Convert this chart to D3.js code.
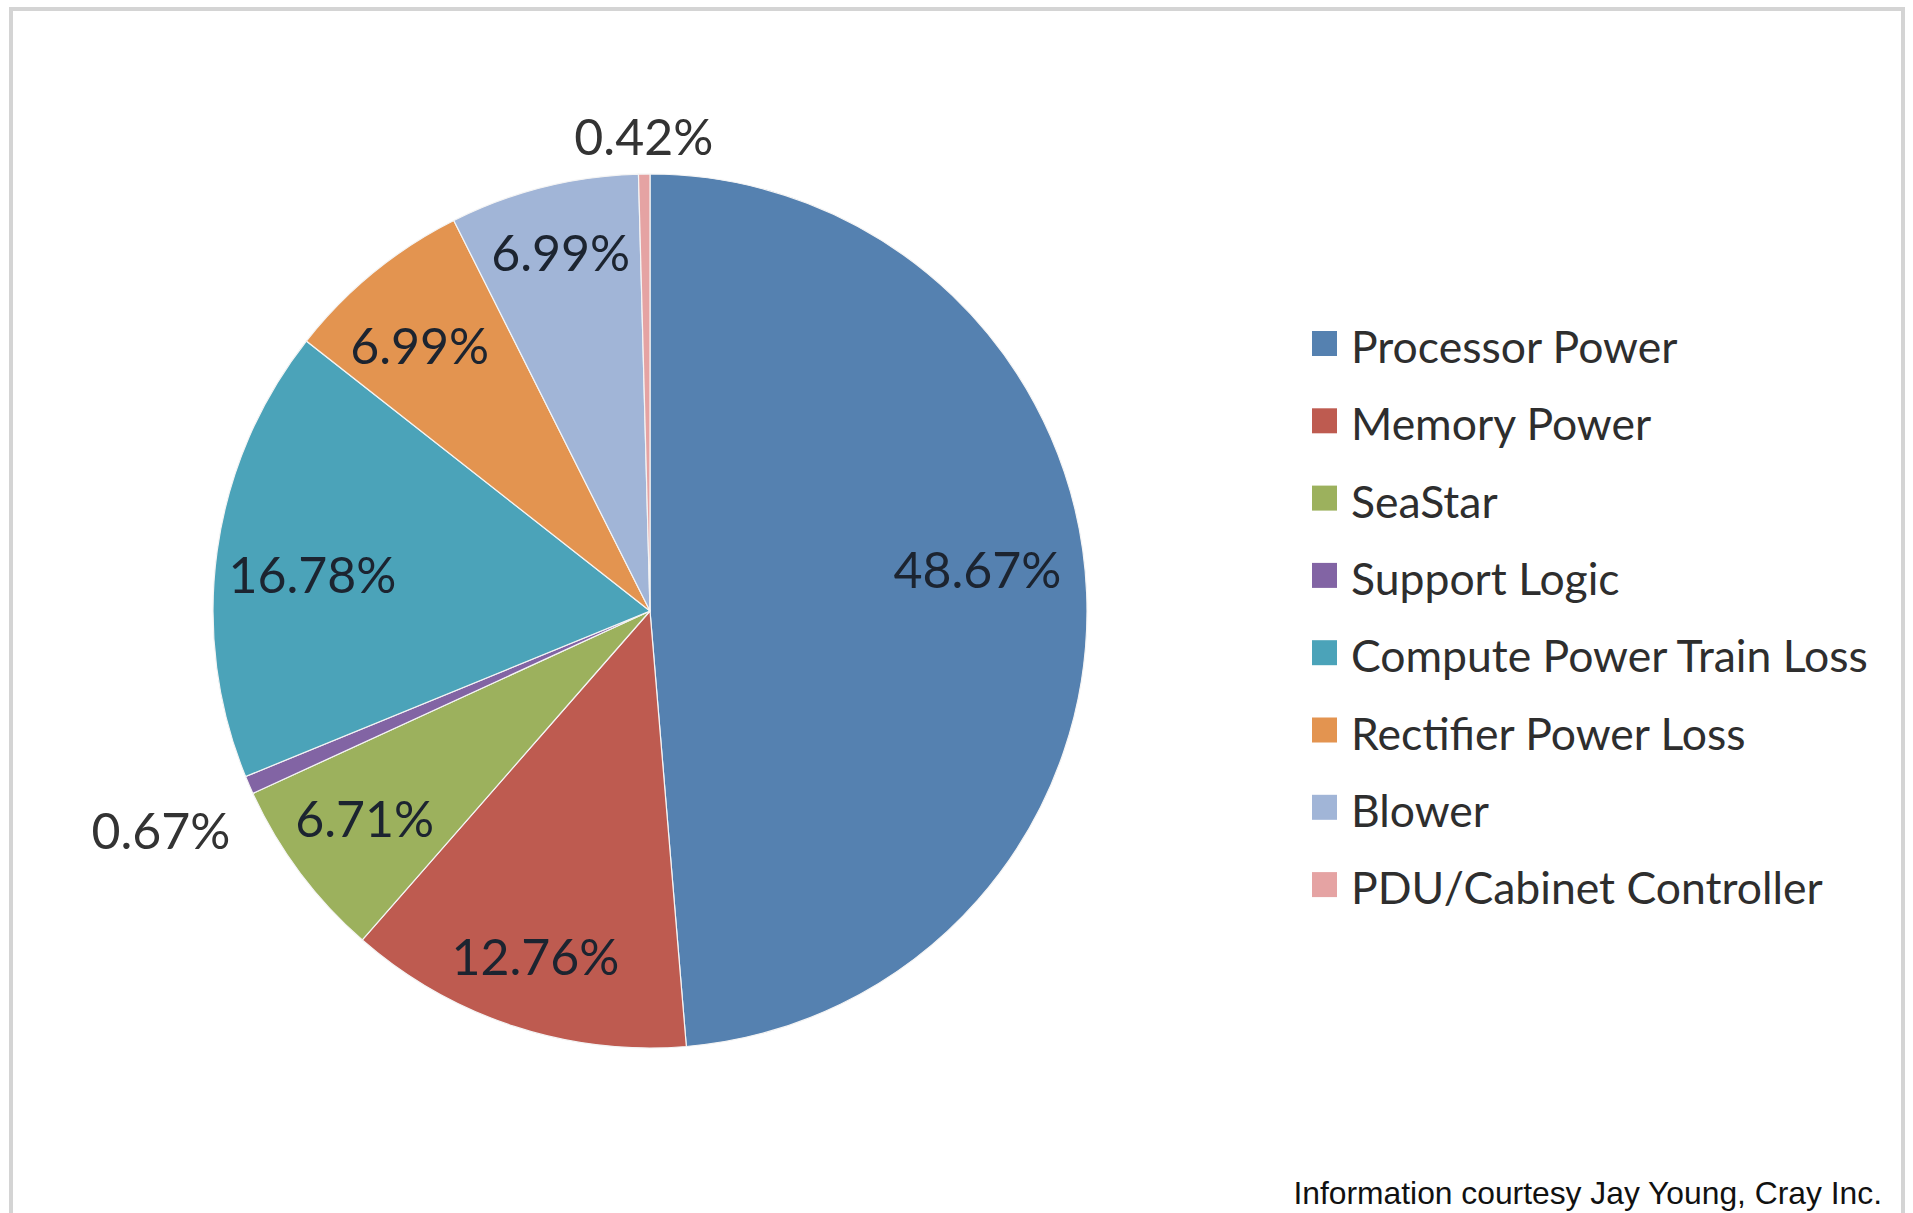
<!DOCTYPE html>
<html>
<head>
<meta charset="utf-8">
<script src="https://cdn.jsdelivr.net/npm/d3@7"></script>
<style>
  html, body { margin: 0; padding: 0; background: #ffffff; }
  svg { display: block; }
</style>
</head>
<body>
<svg id="chart" width="1913" height="1213"></svg>
<script>
// ---- data ----
const categories = [
  "Processor Power",
  "Memory Power",
  "SeaStar",
  "Support Logic",
  "Compute Power Train Loss",
  "Rectifier Power Loss",
  "Blower",
  "PDU/Cabinet Controller"
];
const values = [48.67, 12.76, 6.71, 0.67, 16.78, 6.99, 6.99, 0.42];
const valueLabels = ["48.67%", "12.76%", "6.71%", "0.67%", "16.78%", "6.99%", "6.99%", "0.42%"];
const sliceColors = ["#5581b0", "#be5b50", "#9cb15d", "#8264a4", "#4ba3b9", "#e39450", "#a1b5d7", "#e5a3a3"];
const footnote = "Information courtesy Jay Young, Cray Inc.";

// ---- layout ----
const W = 1913, H = 1213;
const cx = 650, cy = 611, R = 437;
// label distance from centre, as a fraction of radius (Excel "best fit" placement)
const labelRadius = [0.75, 0.84, 0.815, 1.23, 0.78, 0.80, 0.84, 1.08];
// small pixel nudges applied after polar placement
const labelNudge = [[0, -27], [0, -3], [0, -5], [4, 6], [0, 11], [-9, 6], [0, -2], [0, -2]];

const svg = d3.select("#chart");

// frame
svg.append("rect")
  .attr("x", 11).attr("y", 9)
  .attr("width", 1892).attr("height", 1240)
  .attr("fill", "#ffffff")
  .attr("stroke", "#d4d4d4")
  .attr("stroke-width", 4);

const color = d3.scaleOrdinal().domain(categories).range(sliceColors);

const pie = d3.pie().sort(null).value(d => d.value).startAngle(0).endAngle(2 * Math.PI);
const data = categories.map((c, i) => ({ name: c, value: values[i], label: valueLabels[i], lr: labelRadius[i], nudge: labelNudge[i] }));
const arcs = pie(data);

const arc = d3.arc().innerRadius(0).outerRadius(R);

const g = svg.append("g").attr("transform", `translate(${cx},${cy})`);

g.selectAll("path.slice")
  .data(arcs)
  .enter().append("path")
  .attr("class", "slice")
  .attr("d", arc)
  .attr("fill", d => color(d.data.name))
  .attr("stroke", "#f4f4f4")
  .attr("stroke-width", 1.2);

g.selectAll("text.vlabel")
  .data(arcs)
  .enter().append("text")
  .attr("class", "vlabel")
  .attr("transform", d => {
    const a = (d.startAngle + d.endAngle) / 2;
    const r = R * d.data.lr;
    return `translate(${r * Math.sin(a) + d.data.nudge[0]},${-r * Math.cos(a) + d.data.nudge[1]})`;
  })
  .attr("text-anchor", "middle")
  .attr("dy", "0.36em")
  .attr("font-family", "Lato, 'Open Sans', sans-serif")
  .attr("font-size", 50)
  .attr("fill", d => d.data.lr > 1 ? "#333333" : "#1c2430")
  .text(d => d.data.label);

// legend
const legend = svg.append("g").attr("transform", "translate(1312,347)");
const rowH = 77.3;
const items = legend.selectAll("g.item")
  .data(categories)
  .enter().append("g")
  .attr("class", "item")
  .attr("transform", (d, i) => `translate(0,${i * rowH})`);

items.append("rect")
  .attr("x", 0).attr("y", -16)
  .attr("width", 25).attr("height", 25)
  .attr("fill", d => color(d));

items.append("text")
  .attr("x", 39)
  .attr("y", 16)
  .attr("font-family", "Lato, 'Open Sans', sans-serif")
  .attr("font-size", 44.5)
  .attr("fill", "#2e2e2e")
  .text(d => d);

// footnote
svg.append("text")
  .attr("x", 1882).attr("y", 1204)
  .attr("text-anchor", "end")
  .attr("font-family", "'Liberation Sans', Arial, sans-serif")
  .attr("font-size", 31.8)
  .attr("fill", "#111111")
  .text(footnote);
</script>
</body>
</html>
